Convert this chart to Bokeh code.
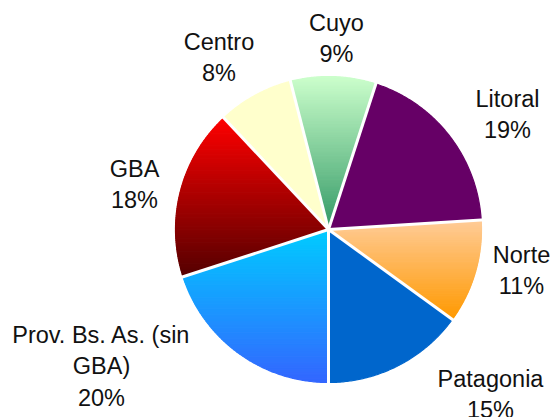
import math
import textwrap
from bokeh.plotting import figure
from bokeh.models import Range1d, ColumnDataSource
from bokeh.core.properties import value
from bokeh.embed import file_html
from bokeh.resources import INLINE

# ---- data ----
regions = ["Cuyo", "Litoral", "Norte", "Patagonia", "Prov. Bs. As. (sin GBA)", "GBA", "Centro"]
shares = [9, 19, 11, 15, 20, 18, 8]

# ---- styles (gradient top -> bottom) ----
top_colors = ["#ccffcc", "#660066", "#ffcc99", "#0066cc", "#00ccff", "#ff0000", "#ffffcc"]
bottom_colors = ["#339966", "#660066", "#ff9900", "#0066cc", "#3366ff", "#550000", "#ffffcc"]

# ---- layout ----
W, H = 558, 417
CX, CY, R = 328.0, 229.0, 153.0
START_DEG = -14.4
label_x = [336, 507, 521, 490, 101, 134, 218.5]
label_y = [22, 98, 254, 378, 334, 168, 41]
LINE_H = 31.5
N_STRIPS = 70


def hex2rgb(h):
    h = h.lstrip("#")
    return tuple(int(h[i:i + 2], 16) for i in (0, 2, 4))


def mix(c1, c2, t):
    a, b = hex2rgb(c1), hex2rgb(c2)
    return "#%02x%02x%02x" % tuple(int(round(a[i] + (b[i] - a[i]) * t)) for i in range(3))


def pt(theta_deg, r):
    t = math.radians(theta_deg)
    return (CX + r * math.sin(t), CY - r * math.cos(t))


def clip(poly, y, keep_below):
    out = []
    n = len(poly)
    for i in range(n):
        p, q = poly[i], poly[(i + 1) % n]
        pin = p[1] >= y if keep_below else p[1] <= y
        qin = q[1] >= y if keep_below else q[1] <= y
        if pin:
            out.append(p)
        if pin != qin:
            t = (y - p[1]) / (q[1] - p[1])
            out.append((p[0] + t * (q[0] - p[0]), y))
    return out


total = float(sum(shares))
xs, ys, cols = [], [], []
bounds = []
a0 = START_DEG
for i, v in enumerate(shares):
    span = 360.0 * v / total
    a1 = a0 + span
    bounds.append(a0)
    npts = max(8, int(span * 2))
    poly = [(CX, CY)] + [pt(a0 + span * k / npts, R) for k in range(npts + 1)]
    ymin = min(p[1] for p in poly)
    ymax = max(p[1] for p in poly)
    nst = 1 if top_colors[i] == bottom_colors[i] else N_STRIPS
    for s in range(nst):
        y0 = ymin + (ymax - ymin) * s / nst
        y1 = ymin + (ymax - ymin) * (s + 1) / nst
        piece = clip(clip(poly, y0, True), y1, False)
        if len(piece) < 3:
            continue
        c = mix(top_colors[i], bottom_colors[i], (s + 0.5) / nst)
        xs.append([p[0] for p in piece])
        ys.append([p[1] for p in piece])
        cols.append(c)
    a0 = a1

p = figure(width=W, height=H, x_range=Range1d(0, W), y_range=Range1d(H, 0),
           output_backend="svg", toolbar_location=None,
           x_axis_location=None, y_axis_location=None, min_border=0)
p.grid.visible = False
p.outline_line_color = None
p.background_fill_color = "white"

src = ColumnDataSource(dict(xs=xs, ys=ys, c=cols))
p.patches("xs", "ys", source=src, fill_color="c", line_color="c", line_width=1.2)

# white separators
sx0, sy0, sx1, sy1 = [], [], [], []
for b in bounds:
    x1, y1 = pt(b, R + 4)
    sx0.append(CX); sy0.append(CY); sx1.append(x1); sy1.append(y1)
p.segment(sx0, sy0, sx1, sy1, line_color="white", line_width=3)

# labels
tx, ty, tt = [], [], []
for i, name in enumerate(regions):
    lines = textwrap.wrap(name, width=18) + ["%d%%" % shares[i]]
    for j, ln in enumerate(lines):
        tx.append(label_x[i])
        ty.append(label_y[i] + j * LINE_H)
        tt.append(ln)
p.text(tx, ty, text=tt, text_font=value("Liberation Sans"), text_font_size=value("23.5px"),
       text_align="center", text_baseline="alphabetic", text_color="#111111")

open("out.html", "w").write(file_html(p, INLINE))
